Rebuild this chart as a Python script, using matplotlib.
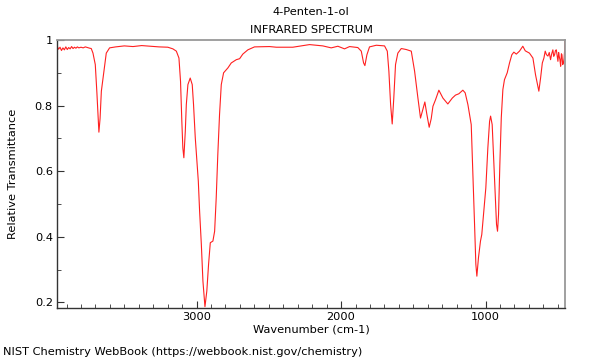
#!/usr/bin/env python3
# -*- coding: utf-8 -*-

import matplotlib
matplotlib.use("Agg")
import matplotlib.pyplot as plt
from matplotlib.ticker import MultipleLocator, FuncFormatter

TITLE = "4-Penten-1-ol"
SUBTITLE = "INFRARED SPECTRUM"
X_LABEL = "Wavenumber (cm-1)"
Y_LABEL = "Relative Transmittance"
FOOTER = "NIST Chemistry WebBook (https://webbook.nist.gov/chemistry)"

# wavenumber (cm-1)
wavenumber = [
    3965, 3955, 3945, 3935, 3925, 3915, 3905, 3895, 3885, 3875, 3865, 3855,
    3845, 3835, 3825, 3815, 3800, 3785, 3770, 3755, 3740, 3729, 3717, 3701,
    3690, 3676, 3668, 3659, 3641, 3625, 3602, 3560, 3500, 3440, 3380, 3320,
    3260, 3199, 3164, 3140, 3122, 3111, 3102, 3095, 3088, 3078, 3071, 3060,
    3044, 3030, 3021, 3009, 2998, 2988, 2979, 2967, 2956, 2942, 2929, 2917,
    2905, 2887, 2875, 2864, 2853, 2841, 2829, 2813, 2783, 2760, 2725, 2702,
    2680, 2645, 2599, 2495, 2448, 2334, 2218, 2126, 2068, 2022, 1976, 1941,
    1884, 1860, 1844, 1835, 1821, 1803, 1756, 1699, 1680, 1669, 1657, 1646,
    1635, 1623, 1607, 1583, 1549, 1514, 1491, 1468, 1450, 1434, 1420, 1406,
    1390, 1376, 1364, 1346, 1323, 1295, 1261, 1230, 1208, 1185, 1157, 1141,
    1122, 1111, 1099, 1088, 1076, 1067, 1060, 1049, 1035, 1026, 1012, 998,
    984, 972, 965, 954, 943, 933, 924, 917, 910, 901, 891, 880,
    869, 850, 834, 818, 804, 787, 765, 742, 725, 696, 672, 654,
    631, 619, 607, 596, 587, 578, 568, 559, 550, 542, 534, 528,
    522, 516, 510, 504, 499, 494, 490, 485, 480, 475, 471, 466,
    461, 456, 453, 451,
]

# relative transmittance
transmittance = [
    0.981, 0.972, 0.978, 0.968, 0.976, 0.970, 0.979, 0.971, 0.977, 0.973, 0.980, 0.974,
    0.978, 0.975, 0.979, 0.976, 0.978, 0.976, 0.979, 0.977, 0.975, 0.974, 0.960, 0.925,
    0.840, 0.719, 0.760, 0.844, 0.905, 0.960, 0.976, 0.979, 0.982, 0.980, 0.983, 0.981,
    0.979, 0.978, 0.973, 0.966, 0.945, 0.874, 0.752, 0.671, 0.641, 0.722, 0.803, 0.864,
    0.884, 0.864, 0.803, 0.702, 0.631, 0.570, 0.478, 0.377, 0.265, 0.187, 0.235, 0.316,
    0.382, 0.387, 0.417, 0.519, 0.651, 0.773, 0.864, 0.900, 0.915, 0.930, 0.940, 0.943,
    0.957, 0.970, 0.979, 0.980, 0.978, 0.978, 0.986, 0.982, 0.976, 0.981, 0.973, 0.980,
    0.977, 0.966, 0.930, 0.922, 0.955, 0.979, 0.984, 0.982, 0.966, 0.905, 0.803, 0.744,
    0.823, 0.925, 0.960, 0.974, 0.971, 0.966, 0.905, 0.823, 0.762, 0.788, 0.811, 0.773,
    0.734, 0.760, 0.798, 0.818, 0.847, 0.823, 0.805, 0.823, 0.832, 0.836, 0.847, 0.839,
    0.803, 0.773, 0.742, 0.600, 0.438, 0.316, 0.280, 0.336, 0.387, 0.407, 0.478, 0.549,
    0.671, 0.752, 0.768, 0.742, 0.631, 0.529, 0.438, 0.417, 0.468, 0.620, 0.763, 0.849,
    0.879, 0.900, 0.930, 0.955, 0.963, 0.957, 0.966, 0.981, 0.967, 0.960, 0.945, 0.894,
    0.844, 0.884, 0.930, 0.945, 0.966, 0.955, 0.951, 0.962, 0.940, 0.958, 0.970, 0.950,
    0.955, 0.968, 0.970, 0.952, 0.935, 0.962, 0.950, 0.940, 0.920, 0.958, 0.955, 0.925,
    0.930, 0.945, 0.966, 1.000,
]

X_LIMITS = (3966, 450)
Y_LIMITS = (0.183, 1.0)


def main():

    plt.rcParams["font.family"] = "DejaVu Sans"
    plt.rcParams["font.size"] = 8.2

    fig = plt.figure(figsize=(6.0, 3.6), dpi=100)
    ax = fig.add_axes([57 / 600, 1 - 308 / 360, 508 / 600, 268 / 360])

    ax.plot(wavenumber, transmittance, color="#ff2020", linewidth=0.8)

    ax.set_xlim(*X_LIMITS)
    ax.set_ylim(*Y_LIMITS)

    # ticks ######################################################################
    ax.xaxis.set_major_locator(MultipleLocator(1000))
    ax.xaxis.set_minor_locator(MultipleLocator(100))
    ax.yaxis.set_major_locator(MultipleLocator(0.2))
    ax.yaxis.set_minor_locator(MultipleLocator(0.1))
    ax.yaxis.set_major_formatter(FuncFormatter(lambda v, p: "{:g}".format(round(v, 2))))
    ax.tick_params(which="both", direction="in", top=False, right=False,
                   colors="#333333", labelcolor="black", labelsize=8.2)
    ax.tick_params(which="major", length=5, width=0.8, pad=3)
    ax.tick_params(which="minor", length=3, width=0.6)

    # frame ######################################################################
    for side in ("left", "bottom"):
        ax.spines[side].set_color("#333333")
        ax.spines[side].set_linewidth(1.0)
    for side in ("top", "right"):
        ax.spines[side].set_color("#999999")
        ax.spines[side].set_linewidth(1.3)

    # texts ######################################################################
    ax.set_xlabel(X_LABEL)
    ax.xaxis.set_label_coords(0.5, (308 - 325) / 268)
    ax.set_ylabel(Y_LABEL)
    ax.yaxis.set_label_coords((18 - 57) / 508, 0.5)
    fig.text(311 / 600, 1 - 12 / 360, TITLE, ha="center", va="center")
    fig.text(311 / 600, 1 - 30 / 360, SUBTITLE, ha="center", va="center")
    fig.text(3 / 600, 1 - 352 / 360, FOOTER, ha="left", va="center")

    fig.savefig("out.png", dpi=100)


if __name__ == "__main__":
    main()
